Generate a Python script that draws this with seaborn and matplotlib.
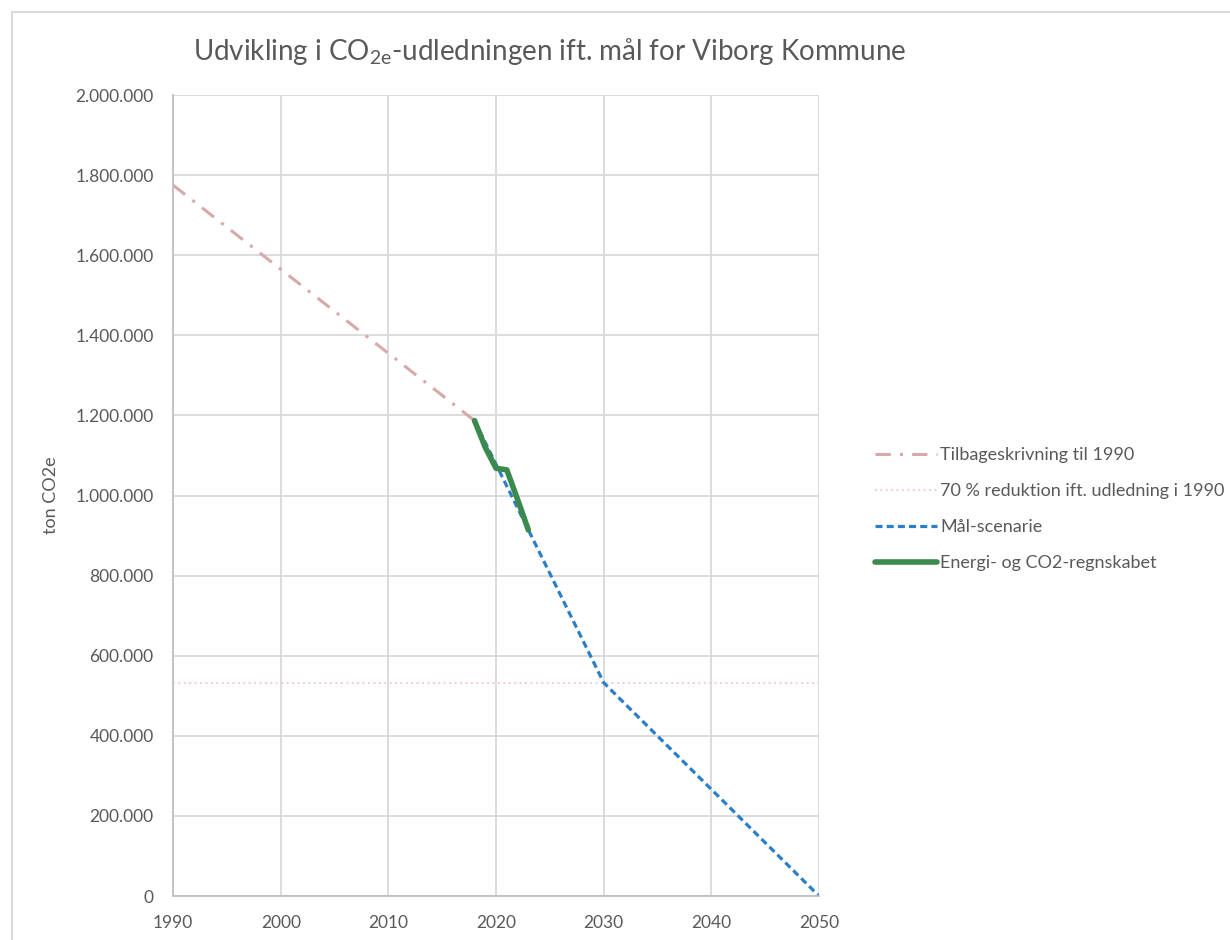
import numpy as np
import pandas as pd
import matplotlib
matplotlib.use("Agg")
import matplotlib.pyplot as plt
import matplotlib.ticker as mticker
from matplotlib.patches import Rectangle
import seaborn as sns

# Données
tilbage_aar = [1990, 2018]
tilbage_val = [1775000, 1187000]

maal70_aar = [1990, 2050]
maal70_val = [532500, 532500]

scenarie_aar = [2018, 2030, 2050]
scenarie_val = [1187000, 532500, 0]

regnskab_aar = [2018, 2019, 2020, 2021, 2022, 2023]
regnskab_val = [1187000, 1120000, 1068000, 1064000, 990000, 914000]

y_ticks = list(range(0, 2000001, 200000))
x_ticks = list(range(1990, 2051, 10))

sns.set_theme(style="white")
plt.rcParams['font.family'] = ['Lato', 'DejaVu Sans']
plt.rcParams['mathtext.fontset'] = 'custom'
plt.rcParams['mathtext.rm'] = 'Lato'
tekst = '#595959'
grid = '#d9d9d9'

fig = plt.figure(figsize=(12.3, 9.4), dpi=100)
ax = fig.add_axes([0.1407, 0.0468, 0.6659 - 0.1407, 0.8989 - 0.0468])

sns.lineplot(x=tilbage_aar, y=tilbage_val, ax=ax, color='#d7a9a9', lw=2.2,
             label='Tilbageskrivning til 1990')
ax.lines[-1].set_dashes([5, 3, 1, 3])
sns.lineplot(x=maal70_aar, y=maal70_val, ax=ax, color='#f5c4c6', lw=1.3,
             label='70 % reduktion ift. udledning i 1990')
ax.lines[-1].set_dashes([1, 2])
sns.lineplot(x=scenarie_aar, y=scenarie_val, ax=ax, color='#2b7fc6', lw=2.3,
             label='Mål-scenarie')
ax.lines[-1].set_dashes([2.2, 1.3])
sns.lineplot(x=regnskab_aar, y=regnskab_val, ax=ax, color='#3a8a4e', lw=4,
             label='Energi- og CO2-regnskabet', solid_capstyle='round')

ax.set_xlim(1990, 2050)
ax.set_ylim(0, 2000000)
ax.set_xticks(x_ticks)
ax.set_yticks(y_ticks)
ax.yaxis.set_major_formatter(mticker.FuncFormatter(lambda v, p: f"{int(v):,}".replace(',', '.')))
ax.grid(True, color=grid, lw=1.3)
ax.set_axisbelow(True)
for s in ['top', 'right']:
    ax.spines[s].set_visible(False)
for s in ['left', 'bottom']:
    ax.spines[s].set_color('#bfbfbf')
    ax.spines[s].set_linewidth(1.3)
ax.tick_params(colors=tekst, labelsize=12.5, length=0)
ax.tick_params(axis='x', pad=14)
ax.tick_params(axis='y', pad=14)
ax.set_xlabel('')
ax.set_ylabel('ton CO2e', color=tekst, fontsize=13, labelpad=12)

leg = ax.legend(loc='center left', bbox_to_anchor=(1.062, 0.483), frameon=False,
                fontsize=13, handlelength=3.4, handletextpad=0.2, labelspacing=1.1)
for t in leg.get_texts():
    t.set_color(tekst)

fig.text(0.447, 0.945, r'Udvikling i CO$_{\mathrm{2e}}$-udledningen ift. mål for Viborg Kommune',
         ha='center', va='center', fontsize=20, color=tekst)

fig.patches.append(Rectangle((0.01, -0.1), 1.2, 1.087, transform=fig.transFigure,
                             fill=False, edgecolor='#d9d9d9', lw=1.5))

fig.savefig('out.png', dpi=100)
